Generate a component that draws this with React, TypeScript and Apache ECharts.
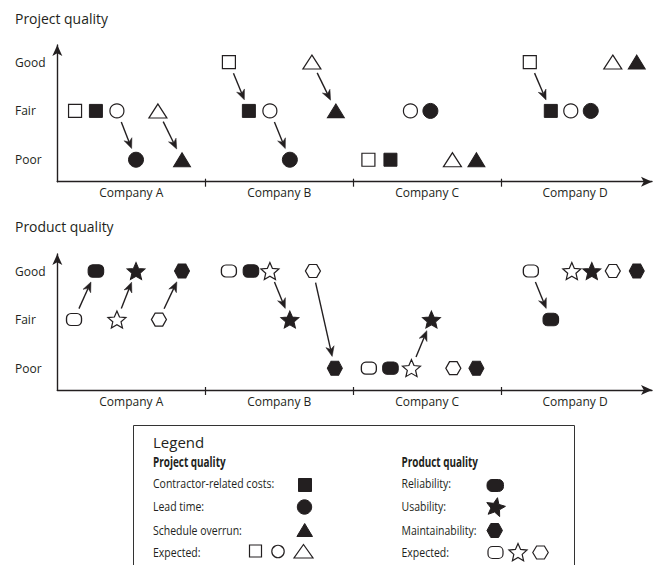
import React, { useEffect, useRef } from 'react';
import * as echarts from 'echarts';

const companies = ['Company A', 'Company B', 'Company C', 'Company D'];
const levels = ['Poor', 'Fair', 'Good'];

// Project quality
const costsExpectedX = [0.12, 1.16, 2.103, 3.194];
const costsExpected = ['Fair', 'Good', 'Poor', 'Good'];
const costsActualX = [0.261, 1.295, 2.252, 3.336];
const costsActual = ['Fair', 'Fair', 'Poor', 'Fair'];
const leadExpectedX = [0.403, 1.437, 2.387, 3.471];
const leadExpected = ['Fair', 'Fair', 'Fair', 'Fair'];
const leadActualX = [0.532, 1.572, 2.522, 3.606];
const leadActual = ['Poor', 'Poor', 'Fair', 'Fair'];
const overrunExpectedX = [0.68, 1.721, 2.671, 3.755];
const overrunExpected = ['Fair', 'Good', 'Poor', 'Good'];
const overrunActualX = [0.843, 1.883, 2.833, 3.917];
const overrunActual = ['Poor', 'Fair', 'Poor', 'Good'];

// Product quality
const reliabilityExpectedX = [0.113, 1.16, 2.106, 3.201];
const reliabilityExpected = ['Fair', 'Good', 'Poor', 'Good'];
const reliabilityActualX = [0.261, 1.309, 2.252, 3.336];
const reliabilityActual = ['Good', 'Good', 'Poor', 'Fair'];
const usabilityExpectedX = [0.403, 1.437, 2.394, 3.478];
const usabilityExpected = ['Fair', 'Good', 'Poor', 'Good'];
const usabilityActualX = [0.532, 1.572, 2.529, 3.613];
const usabilityActual = ['Good', 'Fair', 'Fair', 'Good'];
const maintainabilityExpectedX = [0.687, 1.728, 2.677, 3.755];
const maintainabilityExpected = ['Fair', 'Good', 'Poor', 'Good'];
const maintainabilityActualX = [0.843, 1.876, 2.833, 3.917];
const maintainabilityActual = ['Good', 'Poor', 'Poor', 'Good'];

const DARK = '#231f20';
const FONT = '"Open Sans", "Noto Sans", sans-serif';

function starPts(cx: number, cy: number, R: number, r: number, rot = 0) {
  const pts: number[][] = [];
  for (let i = 0; i < 10; i++) {
    const a = -Math.PI / 2 + rot + (i * Math.PI) / 5;
    const rad = i % 2 === 0 ? R : r;
    pts.push([cx + rad * Math.cos(a), cy + rad * Math.sin(a)]);
  }
  return pts;
}
function hexPts(cx: number, cy: number, w: number, h: number) {
  const q = w / 4;
  return [
    [cx - w / 2, cy], [cx - q, cy - h / 2], [cx + q, cy - h / 2],
    [cx + w / 2, cy], [cx + q, cy + h / 2], [cx - q, cy + h / 2],
  ];
}
const STAR_PATH =
  'path://' +
  starPts(10, 10, 10, 4.6)
    .map((p, i) => (i === 0 ? 'M' : 'L') + p[0].toFixed(2) + ',' + p[1].toFixed(2))
    .join(' ') +
  ' Z';
const HEX_PATH = 'path://M0,6.5 L4,0 L12,0 L16,6.5 L12,13 L4,13 Z';
const RRECT_PATH =
  'path://M4.5,0 L10.5,0 A4.5,4.5 0 0 1 15,4.5 L15,7.5 A4.5,4.5 0 0 1 10.5,12 L4.5,12 A4.5,4.5 0 0 1 0,7.5 L0,4.5 A4.5,4.5 0 0 1 4.5,0 Z';

const lvl = (s: string) => levels.indexOf(s) + 1;
const pts = (xs: number[], lv: string[]) => xs.map((x, i) => [x, lvl(lv[i])]);

function scatter(g: number, xs: number[], lv: string[], symbol: string, size: any, filled: boolean) {
  return {
    type: 'scatter',
    xAxisIndex: g,
    yAxisIndex: g,
    data: pts(xs, lv),
    symbol,
    symbolSize: size,
    silent: true,
    z: 4,
    itemStyle: filled
      ? { color: DARK, borderColor: DARK, borderWidth: 1, opacity: 1 }
      : { color: '#ffffff', borderColor: DARK, borderWidth: 1.2, opacity: 1 },
  };
}

type Measure = { ex: number[]; e: string[]; ax: number[]; a: string[] };
function arrowData(ms: Measure[]) {
  const out: number[][] = [];
  ms.forEach((m) =>
    m.ex.forEach((x, i) => {
      if (m.e[i] !== m.a[i]) out.push([x, lvl(m.e[i]), m.ax[i], lvl(m.a[i])]);
    })
  );
  return out;
}

function arrowSeries(g: number, data: number[][]) {
  return {
    type: 'custom',
    xAxisIndex: g,
    yAxisIndex: g,
    data,
    encode: { x: [0, 2], y: [1, 3] },
    clip: false,
    silent: true,
    z: 3,
    renderItem: (params: any, api: any) => {
      const p1 = api.coord([api.value(0), api.value(1)]);
      const p2 = api.coord([api.value(2), api.value(3)]);
      const dx = p2[0] - p1[0];
      const dy = p2[1] - p1[1];
      const len = Math.hypot(dx, dy);
      const ux = dx / len;
      const uy = dy / len;
      const nx = -uy;
      const ny = ux;
      const gap = 12;
      const s = [p1[0] + ux * gap, p1[1] + uy * gap];
      const e = [p2[0] - ux * gap, p2[1] - uy * gap];
      const base = [e[0] - ux * 10, e[1] - uy * 10];
      const notch = [e[0] - ux * 7, e[1] - uy * 7];
      const left = [base[0] + nx * 4.2, base[1] + ny * 4.2];
      const right = [base[0] - nx * 4.2, base[1] - ny * 4.2];
      return {
        type: 'group',
        children: [
          {
            type: 'line',
            shape: { x1: s[0], y1: s[1], x2: notch[0], y2: notch[1] },
            style: { stroke: DARK, lineWidth: 1.4 },
          },
          {
            type: 'polygon',
            shape: { points: [e, left, notch, right] },
            style: { fill: DARK, stroke: DARK, lineWidth: 0.5 },
          },
        ],
      };
    },
  };
}

const projectMeasures: Measure[] = [
  { ex: costsExpectedX, e: costsExpected, ax: costsActualX, a: costsActual },
  { ex: leadExpectedX, e: leadExpected, ax: leadActualX, a: leadActual },
  { ex: overrunExpectedX, e: overrunExpected, ax: overrunActualX, a: overrunActual },
];
const productMeasures: Measure[] = [
  { ex: reliabilityExpectedX, e: reliabilityExpected, ax: reliabilityActualX, a: reliabilityActual },
  { ex: usabilityExpectedX, e: usabilityExpected, ax: usabilityActualX, a: usabilityActual },
  { ex: maintainabilityExpectedX, e: maintainabilityExpected, ax: maintainabilityActualX, a: maintainabilityActual },
];

function mainXAxis(g: number) {
  return {
    type: 'value',
    gridIndex: g,
    min: 0,
    max: 4.02,
    splitLine: { show: false },
    axisLine: {
      show: true,
      symbol: ['none', 'arrow'],
      symbolSize: [7.5, 11],
      lineStyle: { color: DARK, width: 1.4 },
    },
    axisTick: { show: true, customValues: [1, 2, 3], length: 5, lineStyle: { color: DARK, width: 1.2 } },
    axisLabel: {
      show: true,
      customValues: [0.5, 1.5, 2.5, 3.5],
      formatter: (v: number) => companies[Math.floor(v)],
      margin: 5,
      fontSize: 12,
      fontFamily: FONT,
      color: DARK,
    },
  };
}
function innerTickAxis(g: number) {
  return {
    type: 'value',
    gridIndex: g,
    position: 'bottom',
    min: 0,
    max: 4.02,
    splitLine: { show: false },
    axisLine: { show: false },
    axisTick: { show: true, inside: true, customValues: [1, 2, 3], length: 3, lineStyle: { color: DARK, width: 1.2 } },
    axisLabel: { show: false },
  };
}
function yAxis(g: number) {
  return {
    type: 'value',
    gridIndex: g,
    min: 0.55,
    max: 3.35,
    splitLine: { show: false },
    axisLine: {
      show: true,
      symbol: ['none', 'arrow'],
      symbolSize: [7.5, 11],
      lineStyle: { color: DARK, width: 1.4 },
    },
    axisTick: { show: false },
    axisLabel: {
      show: true,
      customValues: [1, 2, 3],
      formatter: (v: number) => levels[Math.round(v) - 1],
      align: 'left',
      margin: 42.3,
      fontSize: 12,
      fontFamily: FONT,
      color: DARK,
    },
  };
}

function txt(x: number, y: number, text: string, size: number, bold = false, sx = 1) {
  return {
    type: 'text',
    x,
    y,
    scaleX: sx,
    silent: true,
    style: {
      text,
      fill: DARK,
      font: `${bold ? 'bold ' : ''}${size}px ${FONT}`,
      verticalAlign: 'middle',
      align: 'left',
    },
  };
}
const filledStyle = { fill: DARK, stroke: DARK, lineWidth: 1 };
const hollowStyle = { fill: '#fff', stroke: DARK, lineWidth: 1.2 };

function legendGraphics() {
  const els: any[] = [];
  els.push({
    type: 'rect',
    shape: { x: 133.5, y: 425.5, width: 441, height: 200 },
    style: { fill: '#fff', stroke: '#333', lineWidth: 1 },
    silent: true,
  });
  const isz = 12.5;
  const isx = 0.84;
  els.push(txt(153, 441.5, 'Legend', 15));
  els.push(txt(153, 462, 'Project quality', 14, true, 0.71));
  els.push(txt(153, 483, 'Contractor-related costs:', isz, false, isx));
  els.push(txt(153, 506.5, 'Lead time:', isz, false, isx));
  els.push(txt(153, 530, 'Schedule overrun:', isz, false, isx));
  els.push(txt(153, 552.5, 'Expected:', isz, false, isx));
  els.push(txt(401.5, 462, 'Product quality', 14, true, 0.71));
  els.push(txt(401.5, 483, 'Reliability:', isz, false, isx));
  els.push(txt(401.5, 506.5, 'Usability:', isz, false, isx));
  els.push(txt(401.5, 530, 'Maintainability:', isz, false, isx));
  els.push(txt(401.5, 552.5, 'Expected:', isz, false, isx));
  // project glyphs
  els.push({ type: 'rect', shape: { x: 298.5, y: 478.5, width: 13, height: 13 }, style: filledStyle, silent: true });
  els.push({ type: 'circle', shape: { cx: 304.5, cy: 507, r: 7.2 }, style: filledStyle, silent: true });
  els.push({ type: 'polygon', shape: { points: [[304.7, 523.5], [312.5, 536.5], [296.9, 536.5]] }, style: filledStyle, silent: true });
  els.push({ type: 'rect', shape: { x: 249.5, y: 545, width: 12, height: 12 }, style: hollowStyle, silent: true });
  els.push({ type: 'circle', shape: { cx: 278, cy: 551.5, r: 6.2 }, style: hollowStyle, silent: true });
  els.push({ type: 'polygon', shape: { points: [[303.5, 544.5], [313, 558], [294, 558]] }, style: hollowStyle, silent: true });
  // product glyphs
  els.push({ type: 'rect', shape: { x: 487, y: 479.5, width: 16.5, height: 12, r: 5 }, style: filledStyle, silent: true });
  els.push({ type: 'polygon', shape: { points: starPts(495.5, 507.5, 10, 4.6, 0.2) }, style: filledStyle, silent: true });
  els.push({ type: 'polygon', shape: { points: hexPts(494.7, 530.5, 15.5, 14) }, style: filledStyle, silent: true });
  els.push({ type: 'rect', shape: { x: 488, y: 546.5, width: 15, height: 12, r: 4.5 }, style: hollowStyle, silent: true });
  els.push({ type: 'polygon', shape: { points: starPts(518, 553, 9.5, 4.4) }, style: hollowStyle, silent: true });
  els.push({ type: 'polygon', shape: { points: hexPts(540.5, 552.5, 15.5, 13) }, style: hollowStyle, silent: true });
  return els;
}

export default function App() {
  const ref = useRef<HTMLDivElement>(null);
  useEffect(() => {
    if (!ref.current) return;
    const chart = echarts.init(ref.current, undefined, { renderer: 'svg' });
    const option: any = {
      animation: false,
      backgroundColor: '#ffffff',
      grid: [
        { left: 57.3, top: 45, width: 594.7, height: 136.7, containLabel: false },
        { left: 57.3, top: 254, width: 594.7, height: 136, containLabel: false },
      ],
      xAxis: [mainXAxis(0), mainXAxis(1), innerTickAxis(0), innerTickAxis(1)],
      yAxis: [yAxis(0), yAxis(1)],
      series: [
        arrowSeries(0, arrowData(projectMeasures)),
        scatter(0, costsExpectedX, costsExpected, 'rect', 13, false),
        scatter(0, costsActualX, costsActual, 'rect', 13, true),
        scatter(0, leadExpectedX, leadExpected, 'circle', 14, false),
        scatter(0, leadActualX, leadActual, 'circle', 15, true),
        scatter(0, overrunExpectedX, overrunExpected, 'triangle', [18, 14], false),
        scatter(0, overrunActualX, overrunActual, 'triangle', [17, 14], true),
        arrowSeries(1, arrowData(productMeasures)),
        scatter(1, reliabilityExpectedX, reliabilityExpected, RRECT_PATH, [15, 12], false),
        scatter(1, reliabilityActualX, reliabilityActual, RRECT_PATH, [15.5, 12.5], true),
        scatter(1, usabilityExpectedX, usabilityExpected, STAR_PATH, [18, 17], false),
        scatter(1, usabilityActualX, usabilityActual, STAR_PATH, [18, 17], true),
        scatter(1, maintainabilityExpectedX, maintainabilityExpected, HEX_PATH, [15, 13], false),
        scatter(1, maintainabilityActualX, maintainabilityActual, HEX_PATH, [15, 14], true),
      ],
      graphic: [
        txt(15, 18, 'Project quality', 15, false, 0.93),
        txt(15, 226, 'Product quality', 15, false, 0.93),
        ...legendGraphics(),
      ],
    };
    chart.setOption(option);
    return () => chart.dispose();
  }, []);
  return (
    <div
      ref={ref}
      style={{ position: 'fixed', left: 0, top: 0, width: 666, height: 565, background: '#fff' }}
    />
  );
}
